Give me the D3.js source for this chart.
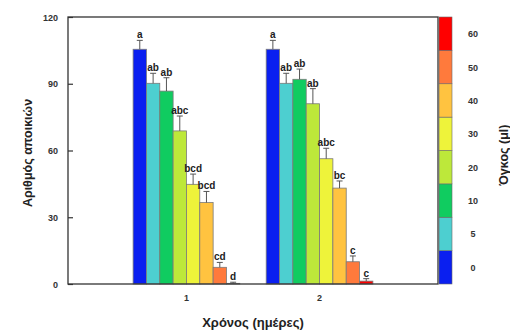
<!DOCTYPE html>
<html>
<head>
<meta charset="utf-8">
<script src="https://cdn.jsdelivr.net/npm/d3@7"></script>
<style>
  body { margin: 0; background: #fff; }
  text { font-family: "Liberation Sans", Arial, sans-serif; }
</style>
</head>
<body>
<div id="chart"></div>
<script>
// Data
const days = ['1', '2'];
const volumes = ['0', '5', '10', '20', '30', '40', '50', '60'];
const colonies1 = [105.5, 90.2, 86.7, 68.8, 44.8, 36.6, 7.5, 0.3];
const colonies2 = [105.5, 90.2, 92, 81, 56.3, 43.1, 10, 1.3];
const errors1 = [4, 4.5, 6, 6.7, 4.6, 5, 2.2, 0.5];
const errors2 = [4, 4.5, 4.6, 6.8, 4.7, 3.2, 2.6, 1.1];
const letters1 = ['a', 'ab', 'ab', 'abc', 'bcd', 'bcd', 'cd', 'd'];
const letters2 = ['a', 'ab', 'ab', 'ab', 'abc', 'bc', 'c', 'c'];
const yTicks = [0, 30, 60, 90, 120];
const colors = ['#0a1ff0', '#4dcfd0', '#10cc60', '#bde83a', '#eef33a', '#ffc340', '#ff7a3c', '#ff0000'];

const W = 510, H = 331;
const plot = { left: 68, right: 438, top: 17, bottom: 284 };

const svg = d3.select('#chart').append('svg')
  .attr('width', W)
  .attr('height', H);

// Scales
const y = d3.scaleLinear().domain([0, 120]).range([plot.bottom, plot.top]);

const xGroup = d3.scalePoint()
  .domain(days)
  .range([plot.left, plot.right])
  .padding(0.89);

const groupWidth = 106.7;
const xBar = d3.scaleBand()
  .domain(volumes)
  .range([-groupWidth / 2, groupWidth / 2])
  .padding(0);

const color = d3.scaleOrdinal().domain(volumes).range(colors);

// Build rows for the bars
const series = [
  { day: days[0], vals: colonies1, errs: errors1, lets: letters1 },
  { day: days[1], vals: colonies2, errs: errors2, lets: letters2 }
];
const rows = series.flatMap(s => s.vals.map((v, i) => ({
  day: s.day, vol: volumes[i], value: v, err: s.errs[i], letter: s.lets[i]
})));

// Bars
const groups = svg.selectAll('.bar')
  .data(rows)
  .enter()
  .append('g')
  .attr('class', 'bar')
  .attr('transform', d => `translate(${xGroup(d.day) + xBar(d.vol)},0)`);

groups.append('rect')
  .attr('x', 0)
  .attr('y', d => y(d.value))
  .attr('width', xBar.bandwidth())
  .attr('height', d => y(0) - y(d.value))
  .attr('fill', d => color(d.vol))
  .attr('stroke', '#7a7a7a')
  .attr('stroke-width', 0.8);

// Error bars (upper only)
const cx = xBar.bandwidth() / 2;
groups.append('line')
  .attr('x1', cx).attr('x2', cx)
  .attr('y1', d => y(d.value))
  .attr('y2', d => y(d.value + d.err))
  .attr('stroke', '#555')
  .attr('stroke-width', 1);

groups.append('line')
  .attr('x1', cx - 3).attr('x2', cx + 3)
  .attr('y1', d => y(d.value + d.err))
  .attr('y2', d => y(d.value + d.err))
  .attr('stroke', '#555')
  .attr('stroke-width', 1);

// Significance letters
groups.append('text')
  .attr('x', cx)
  .attr('y', d => y(d.value + d.err) - 2)
  .attr('text-anchor', 'middle')
  .attr('font-size', 10)
  .attr('font-weight', 'bold')
  .attr('fill', '#222')
  .text(d => d.letter);

// Frame
svg.append('rect')
  .attr('x', plot.left)
  .attr('y', plot.top)
  .attr('width', plot.right - plot.left)
  .attr('height', plot.bottom - plot.top)
  .attr('fill', 'none')
  .attr('stroke', '#333')
  .attr('stroke-width', 1.3);

// Y axis (ticks inward)
const yAxis = svg.append('g')
  .attr('transform', `translate(${plot.left},0)`)
  .call(d3.axisRight(y).tickValues(yTicks).tickSize(5).tickFormat(''));
yAxis.select('.domain').remove();
yAxis.selectAll('line').attr('stroke', '#333').attr('stroke-width', 1.2);

svg.append('g')
  .selectAll('text')
  .data(yTicks)
  .enter()
  .append('text')
  .attr('x', plot.left - 10)
  .attr('y', d => y(d) + 3.5)
  .attr('text-anchor', 'end')
  .attr('font-size', 9)
  .attr('font-weight', 'bold')
  .attr('fill', '#333')
  .text(d => d);

// X tick labels
svg.append('g')
  .selectAll('text')
  .data(days)
  .enter()
  .append('text')
  .attr('x', d => xGroup(d))
  .attr('y', 301)
  .attr('text-anchor', 'middle')
  .attr('font-size', 9)
  .attr('font-weight', 'bold')
  .attr('fill', '#333')
  .text(d => d);

// Axis titles
svg.append('text')
  .attr('x', 253)
  .attr('y', 327)
  .attr('text-anchor', 'middle')
  .attr('font-size', 13)
  .attr('font-weight', 'bold')
  .attr('fill', '#222')
  .text('Χρόνος (ημέρες)');

svg.append('text')
  .attr('transform', 'translate(32,153) rotate(-90)')
  .attr('text-anchor', 'middle')
  .attr('font-size', 12.5)
  .attr('font-weight', 'bold')
  .attr('fill', '#222')
  .text('Αριθμός αποικιών');

// Colour bar legend
const cb = { x: 439, w: 13 };
const yLeg = d3.scaleBand()
  .domain(volumes.slice().reverse())
  .range([plot.top, plot.bottom]);

const legend = svg.append('g').attr('class', 'legend');

legend.selectAll('rect')
  .data(volumes)
  .enter()
  .append('rect')
  .attr('x', cb.x)
  .attr('y', d => yLeg(d))
  .attr('width', cb.w)
  .attr('height', yLeg.bandwidth())
  .attr('fill', d => color(d))
  .attr('stroke', '#6a6a6a')
  .attr('stroke-width', 0.6);

legend.selectAll('text')
  .data(volumes)
  .enter()
  .append('text')
  .attr('x', 473)
  .attr('y', d => yLeg(d) + yLeg.bandwidth() / 2 + 3.5)
  .attr('text-anchor', 'middle')
  .attr('font-size', 9)
  .attr('font-weight', 'bold')
  .attr('fill', '#333')
  .text(d => d);

svg.append('text')
  .attr('transform', 'translate(508,155) rotate(-90)')
  .attr('text-anchor', 'middle')
  .attr('font-size', 12.5)
  .attr('font-weight', 'bold')
  .attr('fill', '#222')
  .text('Όγκος (μl)');
</script>
</body>
</html>
